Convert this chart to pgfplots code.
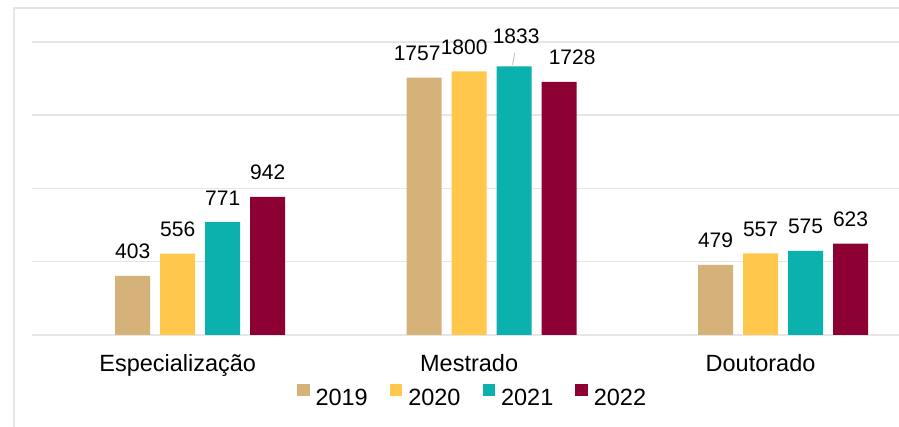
\documentclass[border=0pt]{standalone}
\usepackage{pgfplots}
\pgfplotsset{compat=1.18}
\usepackage{pgfplotstable}
\usepackage{fontspec}
\setmainfont{Liberation Sans}

\definecolor{c19}{HTML}{D4B27A}
\definecolor{c20}{HTML}{FFC84D}
\definecolor{c21}{HTML}{0BB1AD}
\definecolor{c22}{HTML}{8C0034}
\definecolor{gridc}{HTML}{E6E6E6}

% x = category (0 Especializacao, 1 Mestrado, 2 Doutorado); dx/dy = label nudges
\pgfplotstableread{
x y dx dy
0 403 0 0
1 1757 -7 0
2 479 0 0
}\tabA
\pgfplotstableread{
x y dx dy
0 556 0 0
1 1800 -5 0
2 557 0 0
}\tabB
\pgfplotstableread{
x y dx dy
0 771 0 0
1 1833 2 6
2 575 0 0
}\tabC
\pgfplotstableread{
x y dx dy
0 942 0 0
1 1728 13 0
2 623 0 0
}\tabD

\begin{document}
\begin{tikzpicture}
\useasboundingbox (-32pt,-92pt) rectangle (867pt,335pt);
\draw[gridc, line width=2pt] (-18pt,-92pt) -- (-18pt,327pt) -- (867pt,327pt);
\begin{axis}[
    scale only axis,
    width=867pt, height=293pt,
    xmin=-0.5, xmax=2.475,
    ymin=0, ymax=2000,
    clip=false,
    ybar, bar width=35pt,
    xtick={0,1,2},
    xticklabels={Especialização,Mestrado,Doutorado},
    ytick={0,500,1000,1500,2000},
    yticklabels={},
    ymajorgrids,
    grid style={gridc, line width=1.5pt},
    axis line style={draw=none},
    tick style={draw=none},
    major tick length=0pt,
    xticklabel style={anchor=base, inner sep=0pt, yshift=-37pt,
        font=\fontsize{23.5}{28}\selectfont},
    /pgf/number format/.cd, 1000 sep={}, assume math mode=true, /pgfplots/.cd,
    nodes near coords={\pgfmathprintnumber{\pgfplotspointmeta}},
    nodes near coords style={anchor=base, inner sep=0pt, text=black,
        font=\fontsize{21}{25}\selectfont,
        xshift=\dx pt, yshift=17pt+\dy pt},
    legend columns=-1,
    legend style={at={(0.507,-0.206)}, anchor=center, draw=none, fill=none,
        font=\fontsize{23.5}{28}\selectfont, inner sep=0pt,
        nodes={inner sep=0pt},
        /tikz/every odd column/.append style={column sep=6pt},
        /tikz/every even column/.append style={column sep=22pt}},
    legend image code/.code={\fill[#1, draw=none] (0pt,2pt) rectangle (12.5pt,14.5pt);},
]
\addplot[fill=c19, draw=none, bar shift=-45pt,
    visualization depends on={\thisrow{dx}\as\dx},
    visualization depends on={\thisrow{dy}\as\dy}]
    table[x=x, y=y] {\tabA};
\addlegendentry{2019}
\addplot[fill=c20, draw=none, bar shift=0pt,
    visualization depends on={\thisrow{dx}\as\dx},
    visualization depends on={\thisrow{dy}\as\dy}]
    table[x=x, y=y] {\tabB};
\addlegendentry{2020}
\addplot[fill=c21, draw=none, bar shift=45pt,
    visualization depends on={\thisrow{dx}\as\dx},
    visualization depends on={\thisrow{dy}\as\dy}]
    table[x=x, y=y] {\tabC};
\addlegendentry{2021}
\addplot[fill=c22, draw=none, bar shift=90pt,
    visualization depends on={\thisrow{dx}\as\dx},
    visualization depends on={\thisrow{dy}\as\dy}]
    table[x=x, y=y] {\tabD};
\addlegendentry{2022}

% leader line from the raised 1833 label
\draw[gray!45, line width=1pt] (axis cs:1.149,1843) -- (axis cs:1.156,1925);
\end{axis}
\end{tikzpicture}
\end{document}
